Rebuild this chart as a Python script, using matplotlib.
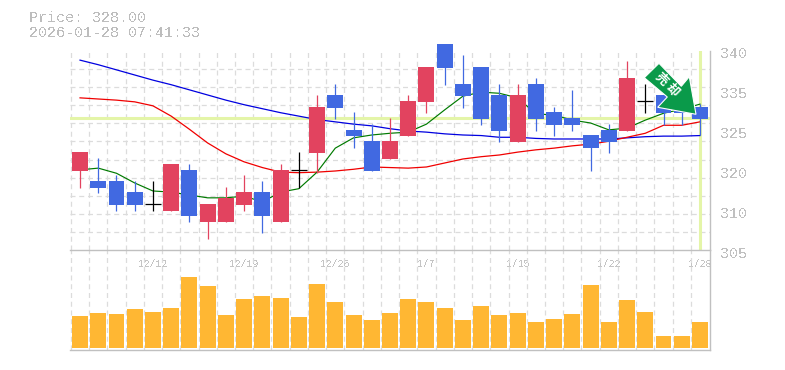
#!/usr/bin/env python3
# -*- coding: utf-8 -*-

import matplotlib
matplotlib.use('Agg')
import matplotlib.pyplot as plt
import numpy as np
from matplotlib.patches import Polygon
from matplotlib.transforms import Affine2D, ScaledTranslation

W, H = 785, 370
GREY = '#c0c0c0'
GRID = '#dcdcdc'
UP = '#e2435f'
DOWN = '#4169e1'
MONO = 'Liberation Mono'

title_lines = ['Price: 328.00', '2026-01-28 07:41:33']
last_price = 328.3

open_ = [319.0, 317.2, 317.2, 315.3, 313.2, 312.0, 319.2, 310.1, 310.1, 313.0, 315.3, 310.1,
         319.2, 322.2, 332.3, 326.2, 324.2, 321.1, 325.1, 331.1, 341.2, 334.2, 337.2, 332.3,
         324.1, 334.2, 329.3, 328.3, 325.3, 326.2, 326.0, 331.3, 332.3, 331.3, 330.2]
high = [322.3, 321.3, 318.3, 317.2, 317.2, 320.2, 320.2, 313.2, 316.2, 318.3, 317.2, 320.2,
        322.3, 332.3, 334.2, 329.3, 327.2, 328.3, 332.3, 337.2, 341.2, 339.3, 337.2, 334.2,
        334.2, 335.3, 330.2, 333.2, 325.3, 327.2, 338.3, 334.2, 332.3, 331.3, 330.7]
low = [316.0, 315.2, 312.0, 312.0, 312.0, 312.0, 310.1, 307.1, 310.1, 312.0, 308.2, 310.1,
       316.0, 318.6, 328.1, 323.0, 319.0, 321.1, 325.1, 329.1, 334.0, 330.0, 327.0, 324.1,
       324.1, 326.0, 325.1, 326.0, 319.0, 322.2, 326.0, 329.1, 327.0, 327.0, 325.3]
close = [322.3, 316.0, 313.0, 313.0, 313.2, 320.2, 311.1, 313.2, 314.3, 315.3, 311.1, 319.2,
         319.2, 330.2, 330.0, 325.1, 319.0, 324.2, 331.3, 337.2, 337.0, 332.1, 328.1, 326.0,
         332.3, 328.1, 327.0, 327.0, 323.0, 324.1, 335.3, 331.3, 329.1, 329.1, 328.1]

ma_short = [319.2, 319.5, 318.6, 316.9, 315.5, 315.3, 314.8, 314.3, 314.3, 314.6, 313.6, 315.3,
            315.9, 318.8, 323.0, 324.8, 325.3, 325.6, 325.8, 327.2, 329.7, 332.1, 332.8, 332.6,
            331.8, 329.0, 328.8, 327.9, 327.4, 326.2, 326.5, 327.9, 329.1, 329.8, 330.7]
ma_mid = [331.8, 331.6, 331.4, 331.1, 330.4, 328.6, 326.3, 323.9, 322.0, 320.6, 319.6, 318.8,
          318.7, 318.8, 319.0, 319.3, 319.7, 319.6, 319.5, 319.7, 320.4, 321.1, 321.5, 321.8,
          322.3, 322.7, 323.0, 323.4, 323.7, 324.2, 324.9, 325.6, 327.0, 327.0, 327.6]
ma_long = [338.4, 337.6, 336.7, 335.8, 334.9, 334.1, 333.2, 332.3, 331.4, 330.6, 329.9, 329.2,
           328.6, 328.0, 327.6, 327.2, 326.9, 326.4, 326.0, 325.8, 325.5, 325.3, 325.2, 324.9,
           324.9, 324.7, 324.6, 324.6, 324.6, 324.6, 324.8, 325.0, 325.1, 325.1, 325.2]

volume = [32, 35, 34, 39, 36, 40, 71, 62, 33, 49, 52, 50, 31, 64, 46, 33, 28, 35,
          49, 46, 40, 28, 42, 33, 35, 26, 29, 34, 63, 26, 48, 36, 12, 12, 26]

date_idx = [4, 9, 14, 19, 24, 29, 34]
date_labels = ['12/12', '12/19', '12/26', '1/7', '1/15', '1/22', '1/28']
price_ticks = [340, 333, 326, 319, 312, 305.17]
price_labels = ['340', '335', '325', '320', '310', '305']

open_, high, low, close = map(np.array, (open_, high, low, close))
x = np.arange(len(close))
xlim = (-0.55, 34.55)
grid_x = np.arange(-0.5, 34, 1.0)

fig = plt.figure(figsize=(W / 100, H / 100), dpi=100, facecolor='white')
ax = fig.add_axes([70 / W, 120 / H, 640 / W, 199 / H])
vol = fig.add_axes([70 / W, 20 / H, 640 / W, 100 / H])

# price panel
ax.set_xlim(*xlim)
ax.set_ylim(305.17, 340)
ax.set_xticks(grid_x, minor=True)
ax.set_xticks([])
ax.set_yticks(np.linspace(305.17, 340, 12), minor=True)
ax.set_yticks(price_ticks, labels=price_labels)
ax.tick_params(which='both', length=0, left=False, bottom=False)
ax.tick_params(axis='y', which='major', right=True, labelright=True, labelleft=False,
               length=0, pad=7, labelsize=10.8, labelcolor=GREY)
ax.grid(which='minor', color=GRID, lw=0.9, ls=(0, (4, 3)), zorder=0)
ax.set_axisbelow(True)
for tk in ax.xaxis.get_minor_ticks() + ax.yaxis.get_minor_ticks():
    tk.gridline.set_clip_on(False)
shift = ScaledTranslation(0, -2 / 100, fig.dpi_scale_trans)
for t in ax.get_yticklabels():
    t.set_fontfamily(MONO)
    t.set_transform(t.get_transform() + shift)
    t.set_antialiased(False)
for name, spine in ax.spines.items():
    spine.set_visible(name == 'right')
    spine.set_color(GREY)
    spine.set_linewidth(1.0)

ax.axhline(last_price, color='#e4f5a8', lw=2.2, zorder=1)
ax.axvline(x[-1], color='#e4f5a8', lw=2.2, zorder=1)

ax.plot(x, ma_long, color='#0000e0', lw=0.9, zorder=2)
ax.plot(x, ma_mid, color='#f00000', lw=0.9, zorder=2)
ax.plot(x, ma_short, color='#007a00', lw=0.85, zorder=2)

colors = np.where(close > open_, UP, DOWN)
doji = close == open_
colors[doji] = 'black'
ax.vlines(x, low, high, colors=colors, lw=0.9, zorder=3, clip_on=False)
ax.bar(x[~doji], np.abs(close - open_)[~doji], bottom=np.minimum(open_, close)[~doji],
       width=0.877, color=colors[~doji], zorder=4, clip_on=False)
ax.hlines(close[doji], x[doji] - 0.44, x[doji] + 0.44, colors='black', lw=0.9, zorder=4)

# signal arrow, placed in picture pixels
to_px = Affine2D().scale(1, -1).translate(0, H)
arrow = [(644.3, 77.7), (659, 63.3), (681.3, 86.3), (689.3, 76.7), (696, 114.3),
         (657.7, 107.3), (667.3, 97)]
fig.add_artist(Polygon(arrow, closed=True, facecolor='#0a9a4a', edgecolor='white', lw=0.8,
                       transform=to_px, zorder=10))
for cx, cy, ch in ((661, 79, '売'), (672, 90, '却')):
    fig.text(cx, cy, ch, transform=to_px, color='white', rotation=-45, fontsize=9,
             fontweight='bold', family=['Noto Sans CJK JP', 'DejaVu Sans'],
             ha='center', va='center', rotation_mode='anchor', zorder=11)

# volume panel
vol.set_xlim(*xlim)
vol.set_ylim(-2, 98)
vol.bar(x, volume, width=0.877, color='#ffb733', zorder=3)
vol.set_yticks([])
vol.set_xticks(grid_x, minor=True)
vol.xaxis.tick_top()
vol.set_xticks(date_idx, labels=date_labels)
vol.tick_params(axis='x', which='both', length=0)
vol.tick_params(axis='x', which='major', pad=-13.5, labelsize=7, labelcolor='#c4c4c4')
vol.grid(axis='x', which='minor', color=GRID, lw=0.9, ls=(0, (4, 3)), zorder=0)
vol.set_axisbelow(True)
for tk in vol.xaxis.get_minor_ticks():
    tk.gridline.set_clip_on(False)
for t in vol.get_xticklabels():
    t.set_fontfamily(MONO)
    t.set_antialiased(False)
vol.spines['left'].set_visible(False)
for name in ('top', 'bottom', 'right'):
    vol.spines[name].set_color(GREY)
    vol.spines[name].set_linewidth(1.0)

for y_px, line in zip((18, 33), title_lines):
    fig.text(29 / W, 1 - y_px / H, line, family=MONO, fontsize=10.8, color='#bdbdbd',
             ha='left', va='center', antialiased=False)

fig.savefig('out.png', dpi=100)
